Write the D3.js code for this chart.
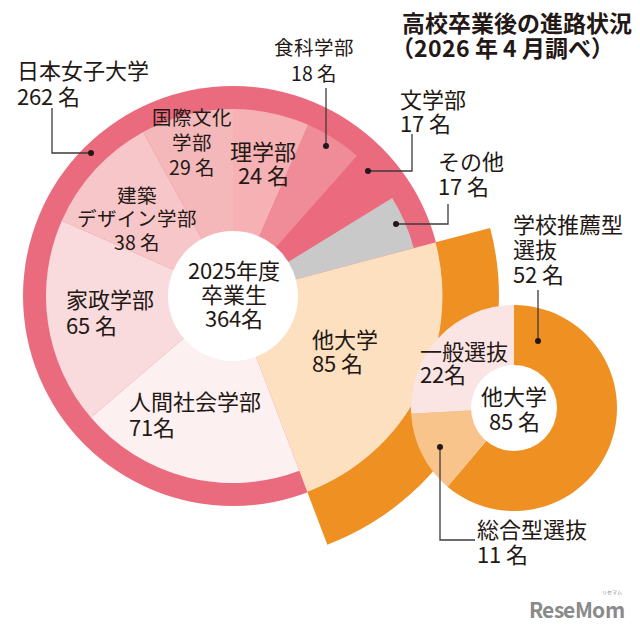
<!DOCTYPE html>
<html><head><meta charset="utf-8">
<script src="https://cdn.jsdelivr.net/npm/d3@7"></script>
<style>
@font-face{font-family:"JPTight";font-weight:400;
  src:local("Noto Sans CJK JP Regular"),local("NotoSansCJKjp-Regular"),local("Noto Sans CJK JP");
  ascent-override:88%;descent-override:12%;line-gap-override:0%;}
@font-face{font-family:"JPTight";font-weight:700;
  src:local("Noto Sans CJK JP Bold"),local("NotoSansCJKjp-Bold");
  ascent-override:88%;descent-override:12%;line-gap-override:0%;}
html,body{margin:0;padding:0;background:#fff;}
svg text{font-family:"JPTight","Noto Sans CJK JP","Noto Sans",sans-serif;fill:#231815;}
</style></head>
<body>
<svg id="c" width="640" height="634"></svg>
<script>
// ---- data ----
const title = ["高校卒業後の進路状況", "（2026 年 4 月調べ）"];
const centerLabel = ["2025年度", "卒業生", "364名"];
const univName = "日本女子大学";
const univTotal = 262;
const innerCats = ["理学部", "食科学部", "文学部", "その他", "他大学", "人間社会学部", "家政学部", "建築デザイン学部", "国際文化学部"];
const innerVals = [24, 18, 17, 17, 85, 71, 65, 38, 29];
const subCats = ["学校推薦型選抜", "総合型選抜", "一般選抜"];
const subVals = [52, 11, 22];
const subCenterLabel = ["他大学", "85 名"];

// ---- styles/layout ----
const innerColors = {
  "理学部": "#f5b1b4", "食科学部": "#f08c97", "文学部": "#eb6a7e", "その他": "#c9c9ca",
  "他大学": "#fde0bf", "人間社会学部": "#fdf0f0", "家政学部": "#f9dbdd",
  "建築デザイン学部": "#f7c6c8", "国際文化学部": "#f4b8ba"
};
const subColors = {"学校推薦型選抜": "#ef9022", "総合型選抜": "#f8c48b", "一般選抜": "#fbe4e4"};
const ringColor = "#eb6b7e";
const orange = "#ef9022";

const svg = d3.select("#c");
const cx = 233, cy = 296;
const rHole = 65, rPie = 187, rRing = 210, rOrange = 266;

const pie = d3.pie().sort(null).value(d => d.v);
const innerData = innerCats.map((c, i) => ({c, v: innerVals[i]}));
const arcsIn = pie(innerData);

const g = svg.append("g").attr("transform", `translate(${cx},${cy})`);
// outer pink ring (日本女子大学) as backdrop
g.append("circle").attr("r", rRing).attr("fill", ringColor);
// inner slices
g.selectAll("path.in").data(arcsIn).join("path")
  .attr("class", "in")
  .attr("fill", d => innerColors[d.data.c])
  .attr("d", d => d3.arc().innerRadius(0).outerRadius(d.data.c === "他大学" ? rRing : rPie)(d));
// orange outer arc for 他大学
const other = arcsIn.find(d => d.data.c === "他大学");
g.append("path").attr("fill", orange)
  .attr("d", d3.arc().innerRadius(rRing - 0.5).outerRadius(rOrange)(other));
g.append("circle").attr("r", rHole).attr("fill", "#fff");

// small donut
const sx = 514, sy = 408, sOut = 103, sIn = 43;
const sg = svg.append("g").attr("transform", `translate(${sx},${sy})`);
const subArcs = pie(subCats.map((c, i) => ({c, v: subVals[i]})));
sg.selectAll("path").data(subArcs).join("path")
  .attr("fill", d => subColors[d.data.c])
  .attr("d", d3.arc().innerRadius(0).outerRadius(sOut));
sg.append("circle").attr("r", sIn).attr("fill", "#fff");

// ---- text helper ----
function lines(x, y, arr, anchor, lh, size, weight) {
  const t = svg.append("text").attr("text-anchor", anchor || "start")
    .attr("font-size", size || 22).attr("font-weight", weight || 400);
  arr.forEach((s, i) => t.append("tspan").attr("x", x).attr("y", y + i * (lh || 25))
    .attr("dominant-baseline", "central").text(s));
  return t;
}
const lab = (c, v, sep) => [c, v + (sep === undefined ? " 名" : sep)];
const val = c => innerVals[innerCats.indexOf(c)];
const sval = c => subVals[subCats.indexOf(c)];

function draw() {
  // title
  lines(402, 23, [title[0]], "start", 25, 23, 700);
  lines(391, 48, [title[1]], "start", 25, 23, 700);

  // labels
  lines(17, 71, lab(univName, univTotal), "start", 26);
  lines(314, 47, lab("食科学部", val("食科学部")), "middle", 26, 19.5);
  lines(400, 100, lab("文学部", val("文学部")), "start", 24);
  lines(438, 162, lab("その他", val("その他")), "start", 25);
  lines(192, 117, ["国際文化", "学部", val("国際文化学部") + " 名"], "middle", 25, 19.5);
  lines(263, 152, lab("理学部", val("理学部")), "middle", 24);
  lines(137, 195, ["建築", "デザイン学部", val("建築デザイン学部") + " 名"], "middle", 23.5, 19.5);
  lines(66, 300, lab("家政学部", val("家政学部")), "start", 26);
  lines(129, 402, lab("人間社会学部", val("人間社会学部"), "名"), "start", 26);
  lines(312, 340, lab("他大学", val("他大学")), "start", 24);
  lines(234, 271, centerLabel, "middle", 24);
  lines(420, 352, lab("一般選抜", sval("一般選抜"), "名"), "start", 23);
  lines(514, 397, subCenterLabel, "middle", 25);
  lines(513, 225, ["学校推薦型", "選抜", sval("学校推薦型選抜") + " 名"], "start", 25);
  lines(477, 530, lab("総合型選抜", sval("総合型選抜")), "start", 25);

  // leaders
  const leaders = [
    [[52,108],[52,153],[91,153]],
    [[326,88],[326,146]],
    [[412,134],[412,171],[368,171]],
    [[448,204],[448,224],[396,224]],
    [[538,290],[538,341]],
    [[475,540],[440,540],[440,447]]
  ];
  leaders.forEach(p => {
    svg.append("path").attr("d", d3.line()(p)).attr("fill", "none")
      .attr("stroke", "#3e3a39").attr("stroke-width", 1.3);
    const e = p[p.length - 1];
    svg.append("circle").attr("cx", e[0]).attr("cy", e[1]).attr("r", 3).attr("fill", "#231815");
  });

  // logo
  svg.append("text").attr("x", 624).attr("y", 618).attr("text-anchor", "end")
    .attr("font-family", "Roboto, 'DejaVu Sans', sans-serif").attr("font-weight", 700)
    .attr("font-size", 21).style("fill", "#8a8a8a").attr("letter-spacing", -0.5).text("ReseMom");
  svg.append("text").attr("x", 612).attr("y", 594).attr("text-anchor", "middle")
    .attr("font-size", 5).style("fill", "#8a8a8a").text("リセマム");
}
draw();
</script>
</body></html>
